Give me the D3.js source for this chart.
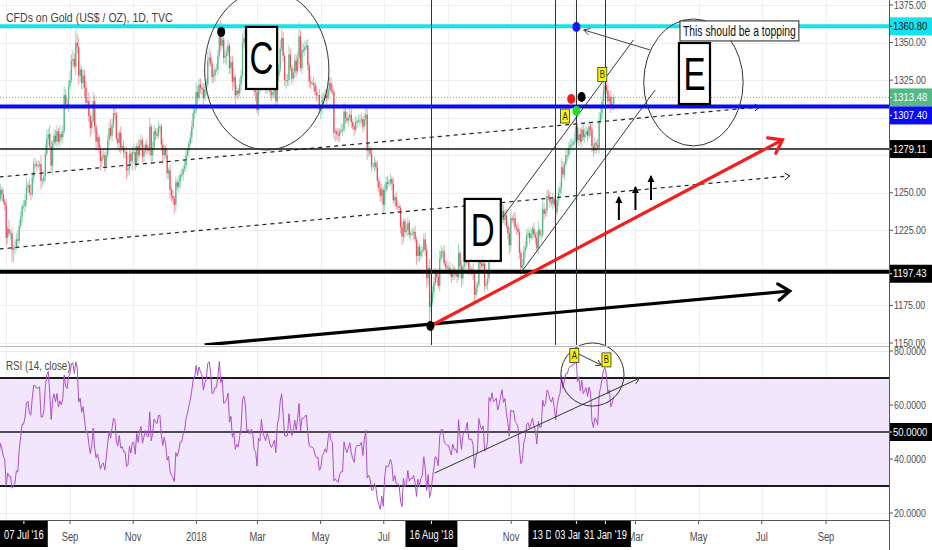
<!DOCTYPE html>
<html><head><meta charset="utf-8">
<script src="https://cdn.jsdelivr.net/npm/d3@7"></script>
<style>
body{margin:0;background:#fff}
svg{display:block}
text{font-family:"Liberation Sans",Arial,sans-serif}
</style></head>
<body><svg id="c" width="932" height="550"></svg>
<script>
// ---------------- DATA ----------------
const title = "CFDs on Gold (US$ / OZ), 1D, TVC";
const rsiTitle = "RSI (14, close)";
const firstBarDate = "2017-05-01";        // daily bars, Mon-Fri
const closes = [
1255,1255,1248,1228,1228, 1226,1217,1219,1225,1228, 1231,1236,1258,1253,1254, 1261,1261,1251,1257,1267,
1267,1268,1268,1267,1279, 1280,1293,1287,1279,1266, 1265,1267,1261,1254,1255, 1246,1243,1247,1250,1256,
1246,1252,1249,1244,1242, 1220,1226,1223,1223,1212, 1213,1214,1219,1218,1228, 1234,1241,1241,1245,1254,
1255,1250,1249,1260,1269, 1269,1268,1268,1269,1258, 1258,1261,1276,1286,1289, 1281,1268,1283,1288,1284,
1291,1284,1289,1287,1291, 1315,1309,1308,1321,1325, 1338,1339,1334,1350,1347, 1328,1332,1323,1328,1320,
1310,1311,1301,1293,1298, 1311,1294,1284,1287,1280, 1271,1274,1275,1268,1275, 1285,1293,1288,1295,1303,
1302,1286,1283,1290,1280, 1281,1277,1277,1265,1266, 1276,1271,1277,1277,1269, 1281,1275,1282,1285,1274,
1278,1282,1279,1278,1294, 1275,1280,1291,1289,1288, 1294,1294,1282,1275,1280, 1275,1263,1265,1252,1248,
1246,1242,1257,1254,1257, 1262,1262,1266,1268,1275, 1278,1283,1287,1294,1303,
1305,1317,1313,1322,1320, 1319,1313,1319,1322,1338, 1340,1336,1327,1328,1332, 1332,1341,1357,1348,1352,
1340,1341,1343,1348,1333, 1337,1324,1327,1315,1318, 1316,1322,1328,1350,1353, 1348,1331,1332,1329,1332,
1330,1318,1317,1305,1322, 1320,1336,1327,1323,1320, 1325,1322,1317,1315,1317, 1319,1311,1328,1332,1346,
1353,1341,1325,1325,1325, 1342,1333,1326,1330,1338, 1331,1340,1354,1333,1345, 1345,1347,1348,1335,1324,
1323,1323,1322,1317,1315, 1315,1305,1306,1312,1313, 1315,1313,1319,1323,1318, 1317,1290,1291,1289,1288,
1291,1292,1292,1304,1300, 1298,1300,1302,1297,1294, 1292,1297,1298,1298,1298, 1299,1294,1299,1302,1278,
1279,1276,1268,1268,1270, 1267,1258,1253,1248,1252, 1242,1252,1257,1256,1257, 1259,1256,1245,1247,1241,
1241,1240,1227,1221,1231, 1224,1225,1230,1222,1223, 1223,1224,1219,1208,1214, 1208,1211,1212,1219,1212,
1193,1200,1174,1177,1184, 1190,1196,1194,1188,1206, 1211,1211,1203,1201,1200, 1200,1197,1194,1199,1196,
1196,1194,1210,1201,1193, 1201,1203,1204,1208,1199, 1199,1199,1196,1182,1187, 1189,1207,1203,1201,1203,
1188,1189,1193,1224,1222, 1230,1225,1226,1228,1222, 1226,1232,1238,1232,1235, 1228,1223,1215,1233,1232,
1233,1227,1226,1224,1210, 1200,1202,1211,1214,1222, 1223,1220,1223,1226,1222, 1220,1213,1225,1222,1222,
1239,1236,1238,1248,1247, 1244,1243,1246,1242,1237, 1245,1250,1253,1267,1262, 1269,1275,1275,1280,1282,
1282,1284,1284,1294,1285, 1289,1284,1292,1287,1289, 1291,1288,1294,1292,1281, 1278,1283,1282,1280,1298,
1303,1311,1319,1321,1318, 1311,1314,1307,1309,1313.48
];
// wick lengths above / below the body, in units of $2, one digit per bar
const wickHi = "21312 12221 21322 12213 21123 32212 12321 21212 22121 21312 12232 21223 12322 21213 12332 32122 21312 32223 23243 32122 21312 32121 12212 22323 21212 12121 21232 12221 21213 12212 21121 12121 21212 12122 11222 13222 12223 32121 22343 32221 22312 12233 32122 21322 23212 21212 21223 32122 32122 22523 22221 21212 12122 21222 21112 12232 21221 12122 21232 21212 12122 12221 21212 21121 12211 21212 12122 21332 22123 21212 12121 21312 12221 21212 13212 21232 32122 21322 21231 22121 12222 21212 12312 32122 21212 12232 12222 21331 22122 21212 12123 22332 21221";
const wickLo = "12132 21312 12121 21212 12121 12213 21212 22121 21212 32124 42121 12122 21212 12123 21212 12321 21212 12121 12132 32223 21232 12322 32121 12121 21232 12232 21312 12122 21212 32121 12232 12232 23212 21212 12121 21212 22121 21222 12121 22312 23231 21212 22121 22312 21212 21221 22121 12232 21212 21212 12122 21212 21321 12121 12322 21212 12121 21212 12123 21212 12122 32121 12121 21232 21212 12132 21212 32721 21212 12121 21212 12123 21212 12231 21212 21212 12121 21212 12321 21212 32121 12121 21212 12121 21212 12121 21212 12121 21212 12122 21312 12121 21212";

const priceTicks = [1150,1175,1200,1225,1250,1275,1300,1325,1350,1375];
const rsiTicks = [20,40,60,80];
const rsiBands = [70,50,30];
const lastPrice = 1313.48;
const levelPrices = [1360.80, 1307.40, 1279.11, 1197.43];

const markerDates  = ["2018-08-16","2018-12-13","2019-01-03","2019-01-31"];
const markerLabels = ["16 Aug '18","13 Dec '18","03 Jan '19","31 Jan '19"];
const leftLabel = "07 Jul '16";

// trend lines: [date1, price1, date2, price2]
const supportLine = ["2018-01-09",1148.7,"2019-07-28",1184.6];
const redLine     = ["2018-08-15",1161.3,"2019-07-21",1285.2];
const dashLow     = ["2017-06-25",1212.6,"2019-07-28",1261.2];
const dashHigh    = ["2017-06-25",1260.5,"2019-06-29",1307.1];
const chanUpper   = ["2018-10-24",1233.9,"2019-02-27",1351.7];
const chanLower   = ["2018-11-11",1197.3,"2019-03-20",1318.4];
const noteArrow   = ["2019-03-15",1345.1,"2019-01-10",1358.4];
// small up arrows: [date, fromPrice, toPrice]
const upArrows = [["2019-02-13",1231.9,1247.2],["2019-03-01",1238.5,1253.9],["2019-03-16",1245.2,1261.2]];
// ellipses: [leftDate, rightDate, topPrice, bottomPrice]
const ellipseC = ["2018-01-09","2018-05-09",1385,1278.5];
const ellipseE = ["2019-03-09","2019-06-13",1365.7,1281.2];
// letter boxes: [leftDate, rightDate, topPrice, bottomPrice, letter]
const letterBoxes = [["2018-02-18","2018-03-20",1360.4,1319.1,"C"],["2018-09-17","2018-10-22",1245.9,1204.6,"D"],["2019-04-12","2019-05-12",1349.7,1309.1,"E"]];
const noteText = "This should be a topping";
const noteAnchor = ["2019-04-13",1364.4];
// dots: [date, price]
const dotDates  = ["2018-01-25","2018-08-15","2019-01-03","2018-12-29","2019-01-08","2019-01-03"];
const dotPrices = [1357.1,1161.3,1360.4,1312.4,1313.8,1304.5];
const dotColors = ["#000","#000","#1414f0","#ee1c1c","#000","#22dd22"];
// yellow tags
const tagDates = ["2018-12-23","2019-01-28"];
const tagPrices = [1301.1,1328.8];
const tagTexts = ["A","B"];
// RSI annotations
const rsiTrend = ["2018-08-19",34.8,"2019-03-05",70];
const rsiEllipse = ["2018-12-19","2019-02-18",83,59.6];
const rsiTagDates = ["2019-01-01","2019-02-01"];
const rsiTagValues = [78.3,76.7];
const rsiArrow = ["2019-01-05",78.9,"2019-01-27",74.8];

// ---------------- SETUP ----------------
const parse = d3.timeParse("%Y-%m-%d");
const svg = d3.select("#c");
const AX = 889, P_TOP = 0, P_BOT = 345, R_TOP = 347, R_BOT = 520;
const SQ = 0.78; // horizontal squeeze of the narrow screenshot lettering
const xTime = d3.scaleTime().domain([parse("2017-09-01"), parse("2019-09-01")]).range([70, 826]);
const y = d3.scaleLinear().domain([1150,1375]).range([343,5]);
const yR = d3.scaleLinear().domain([20,80]).range([513,351]);
const X = s => xTime(parse(s));

function sq(sel, f) {
  const nd = sel.node();
  const L = nd.getComputedTextLength() * (f || SQ);
  nd.setAttribute("textLength", L);
  nd.setAttribute("lengthAdjust", "spacingAndGlyphs");
  return L;
}

// trading-day dates
const dates = [];
let dd = parse(firstBarDate);
while (dates.length < closes.length) {
  const wd = dd.getDay();
  if (wd > 0 && wd < 6) dates.push(new Date(dd));
  dd = d3.timeDay.offset(dd, 1);
}
const hiArr = wickHi.replace(/\s/g,"").split("").map(Number);
const loArr = wickLo.replace(/\s/g,"").split("").map(Number);
const bars = closes.map((c,i) => {
  const o = i ? closes[i-1] : c;
  return {i, date: dates[i], o, c, h: Math.max(o,c) + 2*(hiArr[i]||1), l: Math.min(o,c) - 2*(loArr[i]||1)};
});
const n = bars.length;
const iSep = dates.findIndex(d => +d === +parse("2017-09-01"));
const xBar = d3.scaleLinear().domain([iSep, n-1]).range([xTime(dates[iSep]), xTime(dates[n-1])]);
const step = xBar(1) - xBar(0);

// RSI (Wilder, 14)
function rsiCalc(v, len) {
  const out = new Array(v.length).fill(null);
  let g = 0, l = 0;
  for (let i = 1; i <= len; i++) { const d = v[i]-v[i-1]; if (d > 0) g += d; else l -= d; }
  g /= len; l /= len;
  out[len] = 100 - 100/(1 + g/l);
  for (let i = len+1; i < v.length; i++) {
    const d = v[i]-v[i-1];
    g = (g*(len-1) + Math.max(d,0))/len;
    l = (l*(len-1) + Math.max(-d,0))/len;
    out[i] = l === 0 ? 100 : 100 - 100/(1 + g/l);
  }
  return out;
}
const rsi = rsiCalc(closes, 14);

// clip paths
const defs = svg.append("defs");
defs.append("clipPath").attr("id","clipP").append("rect").attr("x",0).attr("y",P_TOP).attr("width",AX).attr("height",P_BOT-P_TOP);
defs.append("clipPath").attr("id","clipR").append("rect").attr("x",0).attr("y",R_TOP).attr("width",AX).attr("height",R_BOT-R_TOP);

// ---------------- GRID ----------------
const grid = svg.append("g");
const monthTicks = d3.timeMonth.every(2).range(xTime.invert(0), xTime.invert(AX));
grid.selectAll("line.v").data(monthTicks).join("line")
  .attr("x1",d=>Math.round(xTime(d))+0.5).attr("x2",d=>Math.round(xTime(d))+0.5)
  .attr("y1",0).attr("y2",R_BOT).attr("stroke","#eceff3").attr("stroke-width",1);
grid.selectAll("line.hp").data(priceTicks).join("line")
  .attr("x1",0).attr("x2",AX).attr("y1",d=>Math.round(y(d))+0.5).attr("y2",d=>Math.round(y(d))+0.5)
  .attr("stroke","#eceff3");
grid.selectAll("line.hr").data(rsiTicks).join("line")
  .attr("x1",0).attr("x2",AX).attr("y1",d=>Math.round(yR(d))+0.5).attr("y2",d=>Math.round(yR(d))+0.5)
  .attr("stroke","#e8eaee");

// ---------------- PRICE PANEL ----------------
const gP = svg.append("g").attr("clip-path","url(#clipP)");
const UP = "#53b987", DN = "#eb4d5c";
gP.selectAll("line.wick").data(bars).join("line")
  .attr("x1",d=>xBar(d.i)).attr("x2",d=>xBar(d.i))
  .attr("y1",d=>y(d.h)).attr("y2",d=>y(d.l))
  .attr("stroke",d=>d.c>=d.o?"#9fd8bc":"#f2a3ab").attr("stroke-width",1);
gP.selectAll("rect.body").data(bars).join("rect")
  .attr("x",d=>xBar(d.i)-step*0.45).attr("width",step*0.9)
  .attr("y",d=>y(Math.max(d.o,d.c))).attr("height",d=>Math.max(1,Math.abs(y(d.o)-y(d.c))))
  .attr("fill",d=>d.c>=d.o?UP:DN);

function seg(g, L, scaleY, attrs) {
  const ln = g.append("line").attr("x1",X(L[0])).attr("y1",scaleY(L[1])).attr("x2",X(L[2])).attr("y2",scaleY(L[3]));
  for (const k in attrs) ln.attr(k, attrs[k]);
  return [X(L[0]),scaleY(L[1]),X(L[2]),scaleY(L[3])];
}
function chevron(g, p, len, ang, attrs) {
  const [x1,y1,x2,y2] = p;
  const a = Math.atan2(y2-y1, x2-x1);
  const path = g.append("path").attr("fill","none")
    .attr("d",`M${x2-len*Math.cos(a-ang)},${y2-len*Math.sin(a-ang)}L${x2},${y2}L${x2-len*Math.cos(a+ang)},${y2-len*Math.sin(a+ang)}`);
  for (const k in attrs) path.attr(k, attrs[k]);
}

// dashed trend lines
let p = seg(gP, dashLow, y, {stroke:"#222","stroke-width":1.2,"stroke-dasharray":"4,4"});
chevron(gP, p, 6, 0.6, {stroke:"#222","stroke-width":1});
p = seg(gP, dashHigh, y, {stroke:"#222","stroke-width":1.2,"stroke-dasharray":"4,4"});
chevron(gP, p, 6, 0.6, {stroke:"#222","stroke-width":1});

// horizontal levels
gP.append("line").attr("x1",0).attr("x2",AX).attr("y1",y(lastPrice)).attr("y2",y(lastPrice))
  .attr("stroke",UP).attr("stroke-width",1).attr("stroke-dasharray","1,2");
const levelStyles = [["#16e2ee",4],["#0b0bf2",4],["#111",1.5],["#000",4]];
levelPrices.forEach((v,i)=>{
  gP.append("line").attr("x1",0).attr("x2",AX).attr("y1",y(v)).attr("y2",y(v))
    .attr("stroke",levelStyles[i][0]).attr("stroke-width",levelStyles[i][1]);
});

// vertical markers
markerDates.forEach(d=>{
  const x = Math.round(X(d))+0.5;
  gP.append("line").attr("x1",x).attr("x2",x).attr("y1",0).attr("y2",P_BOT).attr("stroke","#333").attr("stroke-width",1);
});

// channel lines
seg(gP, chanUpper, y, {stroke:"#222","stroke-width":0.9});
seg(gP, chanLower, y, {stroke:"#222","stroke-width":0.9});

// thick trend lines
p = seg(gP, supportLine, y, {stroke:"#000","stroke-width":3.2});
chevron(gP, p, 14, 0.62, {stroke:"#000","stroke-width":3.2,"stroke-linecap":"round"});
p = seg(gP, redLine, y, {stroke:"#f21f1f","stroke-width":3.2});
chevron(gP, p, 15, 0.62, {stroke:"#f21f1f","stroke-width":3.2,"stroke-linecap":"round"});

// small up arrows
upArrows.forEach(a=>{
  const pp = [X(a[0]), y(a[1]), X(a[0]), y(a[2])];
  gP.append("line").attr("x1",pp[0]).attr("y1",pp[1]).attr("x2",pp[2]).attr("y2",pp[3]).attr("stroke","#000").attr("stroke-width",2);
  gP.append("path").attr("d",`M${pp[2]-3.5},${pp[3]+6}L${pp[2]},${pp[3]-1}L${pp[2]+3.5},${pp[3]+6}Z`).attr("fill","#000");
});

// ellipses
function ellipse(g, E, sy) {
  const x1 = X(E[0]), x2 = X(E[1]), y1 = sy(E[2]), y2 = sy(E[3]);
  g.append("ellipse").attr("cx",(x1+x2)/2).attr("cy",(y1+y2)/2).attr("rx",(x2-x1)/2).attr("ry",(y2-y1)/2)
    .attr("fill","none").attr("stroke","#333").attr("stroke-width",1);
}
ellipse(gP, ellipseC, y);
ellipse(gP, ellipseE, y);

// letter boxes
letterBoxes.forEach(b=>{
  const x1 = X(b[0]), x2 = X(b[1]), y1 = y(b[2]), y2 = y(b[3]);
  gP.append("rect").attr("x",x1).attr("y",y1).attr("width",x2-x1).attr("height",y2-y1)
    .attr("fill","#fff").attr("stroke","#000").attr("stroke-width",2.2);
  const t = gP.append("text").attr("x",(x1+x2)/2).attr("y",(y1+y2)/2+16).attr("text-anchor","middle")
    .attr("font-size",46).attr("fill","#000").text(b[4]);
  sq(t, 0.72);
});

// note arrow + note text
p = seg(gP, noteArrow, y, {stroke:"#444","stroke-width":1});
chevron(gP, p, 7, 0.5, {stroke:"#444","stroke-width":1});
{
  const nx = X(noteAnchor[0]), ny = y(noteAnchor[1]);
  const rect = gP.append("rect").attr("x",nx).attr("y",ny).attr("height",20)
    .attr("fill","#fff").attr("stroke","#222").attr("stroke-width",1);
  const t = gP.append("text").attr("x",nx+3).attr("y",ny+15).attr("font-size",14).attr("fill","#111").text(noteText);
  const w = sq(t, 0.74);
  rect.attr("width", w+6);
}

// dots
dotDates.forEach((d,i)=>{
  gP.append("ellipse").attr("cx",X(d)).attr("cy",y(dotPrices[i])).attr("rx",4).attr("ry",5).attr("fill",dotColors[i]);
});

// yellow tags
function tag(g, x, yy, txt) {
  g.append("rect").attr("x",x-4.5).attr("y",yy-7).attr("width",9).attr("height",14)
    .attr("fill","#f5f50a").attr("stroke","#333").attr("stroke-width",0.8);
  const t = g.append("text").attr("x",x).attr("y",yy+3.5).attr("text-anchor","middle").attr("font-size",10).attr("fill","#222").text(txt);
  sq(t);
}
tagDates.forEach((d,i)=>tag(gP, X(d), y(tagPrices[i]), tagTexts[i]));

// ---------------- RSI PANEL ----------------
const gR = svg.append("g").attr("clip-path","url(#clipR)");
gR.append("rect").attr("x",0).attr("width",AX).attr("y",yR(70)).attr("height",yR(30)-yR(70)).attr("fill","#f1e6fc");
rsiBands.forEach(v=>{
  gR.append("line").attr("x1",0).attr("x2",AX).attr("y1",yR(v)).attr("y2",yR(v))
    .attr("stroke","#1a1a1a").attr("stroke-width", v===50?1.3:2.2);
});
const rsiPts = bars.filter((b,i)=>rsi[i]!==null);
gR.append("path").datum(rsiPts)
  .attr("d", d3.line().x(b=>xBar(b.i)).y(b=>yR(rsi[b.i])))
  .attr("fill","none").attr("stroke","#ad4fcb").attr("stroke-width",1);
p = seg(gR, rsiTrend, yR, {stroke:"#333","stroke-width":1});
chevron(gR, p, 7, 0.55, {stroke:"#333","stroke-width":1});
const gR2 = svg.append("g");
ellipse(gR2, rsiEllipse, yR);
p = seg(gR2, rsiArrow, yR, {stroke:"#333","stroke-width":1});
chevron(gR2, p, 6, 0.55, {stroke:"#333","stroke-width":1});
rsiTagDates.forEach((d,i)=>tag(gR2, X(d), yR(rsiTagValues[i]), tagTexts[i]));

sq(svg.append("text").attr("x",6).attr("y",370).attr("font-size",12.5).attr("fill","#4a4a4a").text(rsiTitle));

// panel separator
svg.append("line").attr("x1",0).attr("x2",AX).attr("y1",346.5).attr("y2",346.5).attr("stroke","#b8b8b8");

// ---------------- AXES ----------------
svg.append("rect").attr("x",AX).attr("y",0).attr("width",932-AX).attr("height",550).attr("fill","#fff");
svg.append("rect").attr("x",0).attr("y",R_BOT).attr("width",AX).attr("height",550-R_BOT).attr("fill","#fff");
svg.append("line").attr("x1",AX+0.5).attr("x2",AX+0.5).attr("y1",0).attr("y2",550).attr("stroke","#555");
svg.append("line").attr("x1",0).attr("x2",AX).attr("y1",R_BOT+0.5).attr("y2",R_BOT+0.5).attr("stroke","#555");

// badge positions (price axis), used to skip tick labels hidden under them
const badgeYs = [y(levelPrices[0]), y(lastPrice), y(lastPrice)+18, y(levelPrices[2]), y(levelPrices[3])+2];

const axG = svg.append("g").attr("font-size",10.5).attr("fill","#4c4c4c");
priceTicks.forEach(v=>{
  axG.append("line").attr("x1",AX).attr("x2",AX+4).attr("y1",y(v)).attr("y2",y(v)).attr("stroke","#555");
  if (badgeYs.some(b=>Math.abs(b-y(v))<13)) return;
  sq(axG.append("text").attr("x",AX+5).attr("y",y(v)).attr("dy","0.35em").text(v.toFixed(2)), 0.84);
});
rsiTicks.forEach(v=>{
  axG.append("line").attr("x1",AX).attr("x2",AX+4).attr("y1",yR(v)).attr("y2",yR(v)).attr("stroke","#555");
  sq(axG.append("text").attr("x",AX+5).attr("y",yR(v)).attr("dy","0.35em").text(v.toFixed(4)), 0.84);
});

// price badges
function badge(yy, txt, bg, fg) {
  svg.append("rect").attr("x",AX+1).attr("y",yy-9).attr("width",932-AX-1).attr("height",18).attr("fill",bg);
  svg.append("line").attr("x1",AX+1).attr("x2",AX+3).attr("y1",yy).attr("y2",yy).attr("stroke",fg);
  sq(svg.append("text").attr("x",AX+4).attr("y",yy).attr("dy","0.35em").attr("font-size",10.5).attr("fill",fg).text(txt), 0.9);
}
badge(badgeYs[0], levelPrices[0].toFixed(2), "#16e2ee", "#111");
badge(badgeYs[1], lastPrice.toFixed(2), UP, "#fff");
badge(badgeYs[2], levelPrices[1].toFixed(2), "#0b0bf2", "#fff");
badge(badgeYs[3], levelPrices[2].toFixed(2), "#000", "#fff");
badge(badgeYs[4], levelPrices[3].toFixed(2), "#000", "#fff");
badge(yR(50), (50).toFixed(4), "#000", "#fff");

// x axis labels
const xg = svg.append("g").attr("font-size",12).attr("fill","#4c4c4c").attr("text-anchor","middle");
const hiddenUnder = [[0,44],[530,629]];   // pixel spans fully covered by date badges
monthTicks.forEach(d=>{
  const x = xTime(d);
  xg.append("line").attr("x1",x).attr("x2",x).attr("y1",R_BOT).attr("y2",R_BOT+4).attr("stroke","#555");
  if (hiddenUnder.some(s=>x>s[0]+6 && x<s[1]-6)) return;
  sq(xg.append("text").attr("x",x).attr("y",537).attr("dy","0.35em").text(d.getMonth()===0 ? d3.timeFormat("%Y")(d) : d3.timeFormat("%b")(d)));
});
function xBadge(cx, txt, clampLeft) {
  const g = svg.append("g");
  const rect = g.append("rect").attr("y",R_BOT+1).attr("height",26).attr("fill","#000");
  const t = g.append("text").attr("y",535).attr("dy","0.35em").attr("font-size",12).attr("fill","#fff").attr("text-anchor","middle").text(txt);
  const w = sq(t) + 8;
  if (clampLeft) cx = Math.max(cx, w/2);
  t.attr("x", cx);
  rect.attr("x",cx-w/2).attr("width",w);
  g.append("line").attr("x1",cx).attr("x2",cx).attr("y1",R_BOT+1).attr("y2",R_BOT+4).attr("stroke","#fff");
}
xBadge(0, leftLabel, true);
markerDates.forEach((d,i)=>xBadge(X(d), markerLabels[i], false));

// title
sq(svg.append("text").attr("x",6).attr("y",22).attr("font-size",13.5).attr("fill","#444").text(title));
</script>
</body></html>
